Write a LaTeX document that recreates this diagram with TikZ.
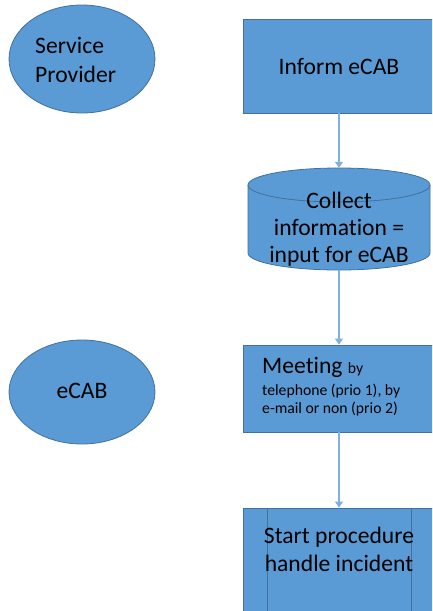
\documentclass[tikz,border=0pt]{standalone}
\usepackage{fontspec}
\setmainfont{Carlito}[Ligatures=NoCommon]
\usetikzlibrary{arrows.meta,shapes.geometric}
\definecolor{boxfill}{HTML}{5B9BD5}
\definecolor{boxline}{HTML}{41719C}
\definecolor{arrowc}{HTML}{7EB0E2}
\tikzset{
  actor/.style={ellipse, fill=boxfill, draw=boxline, line width=0.8pt, minimum width=146pt, minimum height=108pt, inner sep=0pt},
  procbox/.style={rectangle, fill=boxfill, draw=boxline, line width=0.8pt, minimum width=192pt, inner sep=0pt},
  conn/.style={arrowc, line width=1.3pt, -{Triangle[width=8pt,length=6pt]}},
  big/.style={font=\fontsize{23.6}{28}\selectfont},
  small/.style={font=\fontsize{15.7}{19}\selectfont}
}
\begin{document}
\begin{tikzpicture}[x=1pt,y=-1pt]
\clip (0,0) rectangle (432,611);
\fill[white] (0,0) rectangle (432,611);
% actors
\node[actor] (sp) at (82,59) {};
\node[big, anchor=base west, inner sep=0pt] (sptext) at (35,53) {Service};
\node[big, anchor=base west, inner sep=0pt] (sptext2) at (35,82) {Provider};
\node[actor, minimum height=104pt] (ecab) at (82,392) {};
\node[big, anchor=base] (ecabtext) at (82,398) {eCAB};
% inform
\node[procbox, minimum height=94pt] (inform) at (339,66) {};
\node[big, anchor=base] (informtext) at (339,74) {Inform eCAB};
% cylinder
\fill[boxfill, draw=boxline, line width=0.8pt] (248,185) -- (248,253)
  arc[start angle=180,end angle=360,x radius=91pt,y radius=17pt] -- (430,185)
  arc[start angle=0,end angle=180,x radius=91pt,y radius=17pt] -- cycle;
\draw[boxline, line width=0.8pt] (248,185) arc[start angle=180,end angle=360,x radius=91pt,y radius=17pt];
\node[rectangle, minimum width=182pt, minimum height=102pt, inner sep=0pt] (cyl) at (339,219) {};
\node[big, anchor=base] (c1) at (339,208) {Collect};
\node[big, anchor=base] (c2) at (339,235) {information =};
\node[big, anchor=base] (c3) at (339,262) {input for eCAB};
% meeting
\node[procbox, minimum height=87pt] (meet) at (339,388.5) {};
\node[anchor=base west, inner sep=0pt] (m1) at (262,373) {\fontsize{23.6}{28}\selectfont Meeting \fontsize{15.7}{19}\selectfont by};
\node[small, anchor=base west, inner sep=0pt] (m2) at (262,395) {telephone (prio 1), by};
\node[small, anchor=base west, inner sep=0pt] (m3) at (262,413) {e-mail or non (prio 2)};
% start procedure
\node[procbox, minimum height=112pt] (start) at (339,564) {};
\draw[boxline, line width=0.8pt] (267,508) -- (267,620) (411,508) -- (411,620);
\node[big, anchor=base] (s1) at (339,543) {Start procedure};
\node[big, anchor=base] (s2) at (339,571) {handle incident};
% connectors
\draw[conn] (inform.south) -- (cyl.north);
\draw[conn] (cyl.south) -- (meet.north);
\draw[conn] (meet.south) -- (start.north);
\end{tikzpicture}
\end{document}
